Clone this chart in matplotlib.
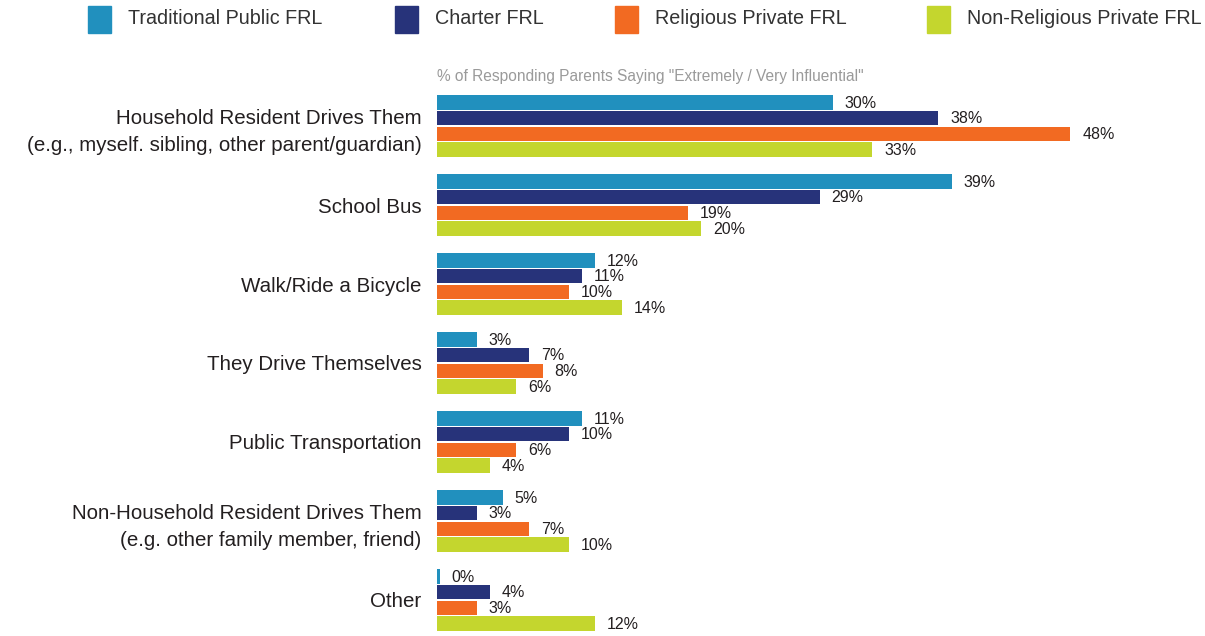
import numpy as np
import matplotlib
matplotlib.use("Agg")
import matplotlib.pyplot as plt
from matplotlib.patches import Rectangle

plt.rcParams['font.family'] = ['Liberation Sans', 'DejaVu Sans']

# categories and series values (% saying extremely / very influential)
categories = [
    "Household Resident Drives Them\n(e.g., myself. sibling, other parent/guardian)",
    "School Bus",
    "Walk/Ride a Bicycle",
    "They Drive Themselves",
    "Public Transportation",
    "Non-Household Resident Drives Them\n(e.g. other family member, friend)",
    "Other",
]
series_names = ["Traditional Public FRL", "Charter FRL",
                "Religious Private FRL", "Non-Religious Private FRL"]
trad_public = [30, 39, 12, 3, 11, 5, 0.2]
charter = [38, 29, 11, 7, 10, 3, 4]
relig_private = [48, 19, 10, 8, 6, 7, 3]
nonrelig_private = [33, 20, 14, 6, 4, 10, 12]
colors = ["#2190BE", "#27337A", "#F26A22", "#C4D62E"]

series = [trad_public, charter, relig_private, nonrelig_private]

W, H = 1205, 636
fig = plt.figure(figsize=(W / 100, H / 100), dpi=100)
ax = fig.add_axes([437 / W, 0, 768 / W, 546 / H])

y = np.arange(len(categories))
pitch = 0.2
for k, (vals, col) in enumerate(zip(series, colors)):
    pos = y + (k - 1.5) * pitch
    ax.barh(pos, vals, height=0.185, color=col, edgecolor='none')
    for p, v in zip(pos, vals):
        ax.text(v + 0.9, p + 0.01, "%.0f%%" % v, va='center', ha='left',
                fontsize=11.5, color='#231F20')

ax.set_xlim(0, 58.2)
ax.set_ylim(6.456, -0.456)
ax.set_yticks(y)
ax.set_yticklabels(categories, fontsize=14.8, color='#231F20', ha='right',
                   multialignment='right', linespacing=1.55)
ax.tick_params(axis='y', length=0, pad=11)
ax.set_xticks([])
for s in ax.spines.values():
    s.set_visible(False)

fig.text(437 / W, 1 - 76 / H,
         '% of Responding Parents Saying "Extremely / Very Influential"',
         fontsize=11.2, color='#9A9A9A', va='center', ha='left')

# legend drawn by hand across the top
legend_x = [88, 395, 615, 927]
for lx, name, col in zip(legend_x, series_names, colors):
    fig.patches.append(Rectangle((lx / W, 1 - 33 / H), 23 / W, 27 / H,
                                 transform=fig.transFigure, color=col))
    fig.text((lx + 40) / W, 1 - 19 / H, name, fontsize=14.2,
             color='#333333', va='center', ha='left')

fig.savefig("out.png", dpi=100)
